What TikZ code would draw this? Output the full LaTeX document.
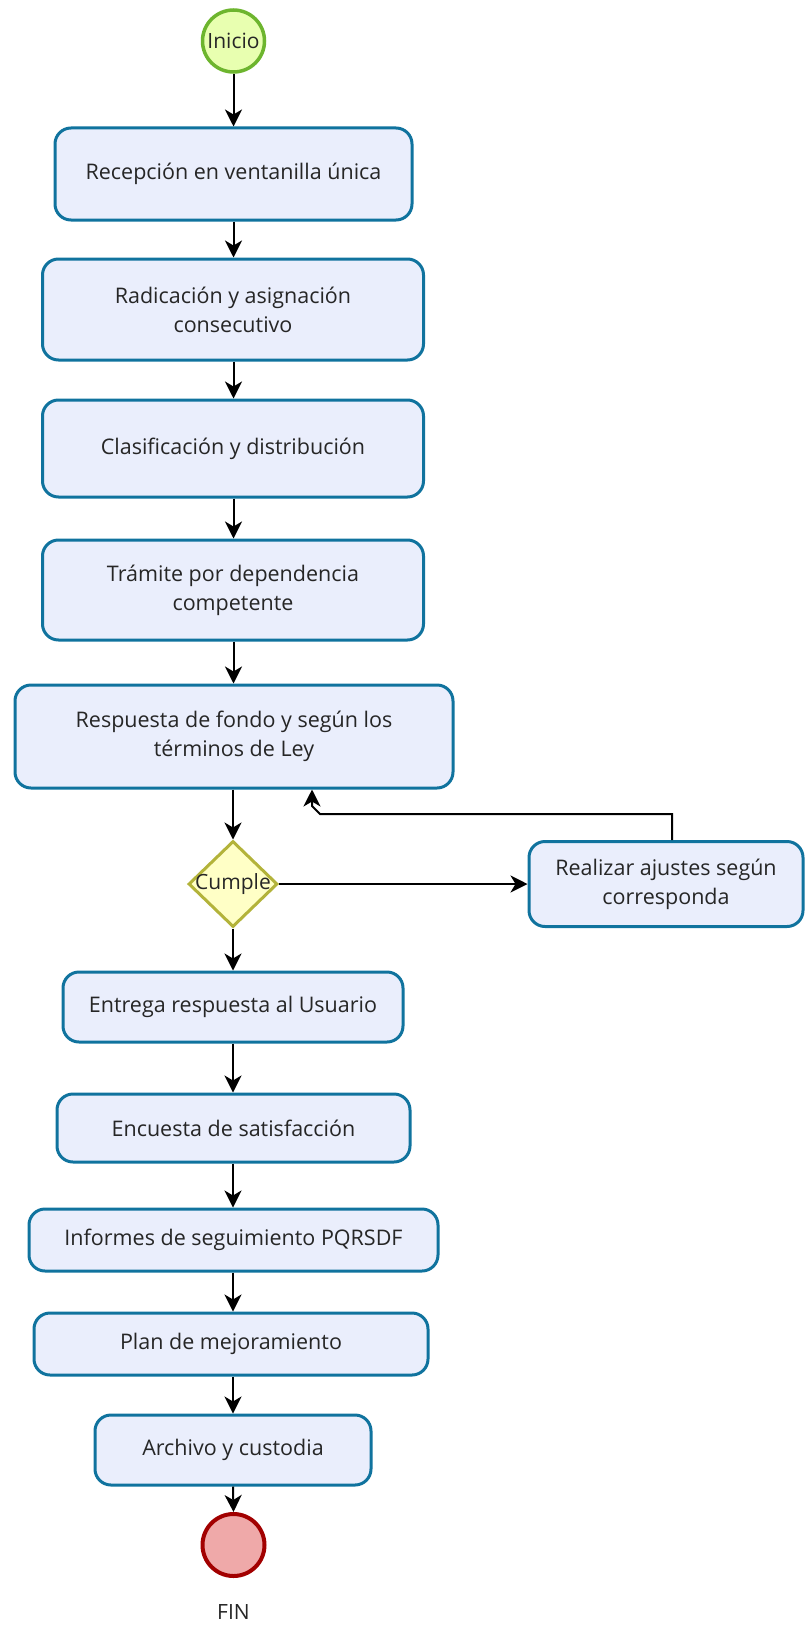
\documentclass[tikz,border=0pt]{standalone}
\usepackage{fontspec}
\setmainfont{Open Sans}
\usetikzlibrary{shapes.geometric,arrows.meta}
\definecolor{boxfill}{HTML}{EAEEFC}
\definecolor{boxline}{HTML}{10739E}
\definecolor{startfill}{HTML}{E8FFB0}
\definecolor{startline}{HTML}{6DB52E}
\definecolor{endfill}{HTML}{EFA9A9}
\definecolor{endline}{HTML}{A20000}
\definecolor{decfill}{HTML}{FFFFC6}
\definecolor{decline}{HTML}{B3B33A}
\definecolor{txt}{HTML}{262626}
\tikzset{
  procbox/.style={draw=boxline, fill=boxfill, line width=3pt, rounded corners=16pt,
    align=center, text=txt, font=\fontsize{21.5}{29}\selectfont, inner sep=0pt},
  flowarrow/.style={draw=black, line width=2pt, -{Stealth[length=17pt,width=17pt,inset=5pt]}},
}
\begin{document}
\begin{tikzpicture}[x=1pt,y=-1pt]
\useasboundingbox (0,0) rectangle (804,1627);
% start / end
\node[circle, draw=startline, fill=startfill, line width=3.5pt, minimum size=62pt, inner sep=0pt,
  text=txt, font=\fontsize{21}{24}\selectfont] (start) at (233.5,41) {Inicio};
% boxes
\node[procbox, minimum width=357pt, minimum height=92pt] (b1) at (233.5,174) {Recepción en ventanilla única};
\node[procbox, minimum width=381pt, minimum height=101pt] (b2) at (233,309.5) {Radicación y asignación\\consecutivo};
\node[procbox, minimum width=381pt, minimum height=97pt] (b3) at (233,448.5) {Clasificación y distribución};
\node[procbox, minimum width=381pt, minimum height=100pt] (b4) at (233,590) {Trámite por dependencia\\competente};
\node[procbox, minimum width=438pt, minimum height=103pt] (b5) at (234,736.5) {Respuesta de fondo y según los\\términos de Ley};
\node[diamond, draw=decline, fill=decfill, line width=3pt, minimum width=89pt, minimum height=86pt,
  inner sep=0pt, text=txt, font=\fontsize{21}{24}\selectfont] (d) at (233,884) {\makebox[0pt]{Cumple}};
\node[procbox, minimum width=274pt, minimum height=85pt] (r) at (666,884) {Realizar ajustes según\\corresponda};
\node[procbox, minimum width=340pt, minimum height=70pt] (b6) at (233,1007) {Entrega respuesta al Usuario};
\node[procbox, minimum width=353pt, minimum height=68pt] (b7) at (233.5,1128) {Encuesta de satisfacción};
\node[procbox, minimum width=409pt, minimum height=62pt] (b8) at (233.5,1240) {Informes de seguimiento PQRSDF};
\node[procbox, minimum width=394pt, minimum height=62pt] (b9) at (231,1344) {Plan de mejoramiento};
\node[procbox, minimum width=276pt, minimum height=70pt] (b10) at (233,1450) {Archivo y custodia};
\node[circle, draw=endline, fill=endfill, line width=4pt, minimum size=62pt, inner sep=0pt] (end) at (233.5,1545) {};
\node[text=txt, font=\fontsize{21}{24}\selectfont] (fin) at (233.5,1612) {FIN};
% connectors
\draw[flowarrow] (start) -- (b1);
\draw[flowarrow] (b1) -- (b2.north -| b1.south);
\draw[flowarrow] (b2.south -| b1.south) -- (b3.north -| b1.south);
\draw[flowarrow] (b3.south -| b1.south) -- (b4.north -| b1.south);
\draw[flowarrow] (b4.south -| b1.south) -- (b5.north -| b1.south);
\draw[flowarrow] (b5.south -| d.north) -- (d.north);
\draw[flowarrow] (d.east) -- (r.west);
\coordinate (k1) at (672,814);
\coordinate (k2) at (320,814);
\coordinate (k3) at (312,806);
\draw[flowarrow] (r.north -| k1) -- (k1) -- (k2) -- (k3) -- (k3 |- b5.south);
\draw[flowarrow] (d.south) -- (b6.north -| d.south);
\draw[flowarrow] (b6.south -| d.south) -- (b7.north -| d.south);
\draw[flowarrow] (b7.south -| d.south) -- (b8.north -| d.south);
\draw[flowarrow] (b8.south -| d.south) -- (b9.north -| d.south);
\draw[flowarrow] (b9.south -| d.south) -- (b10.north -| d.south);
\draw[flowarrow] (b10.south -| d.south) -- (end.north);
\end{tikzpicture}
\end{document}
